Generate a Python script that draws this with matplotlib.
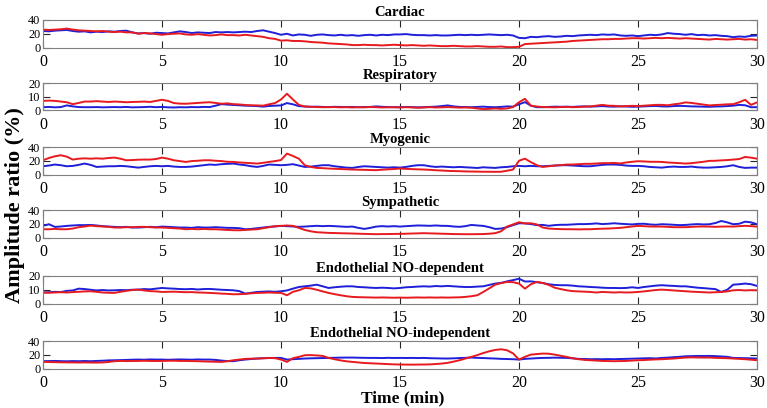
import numpy as np
import matplotlib
matplotlib.use("Agg")
import matplotlib.pyplot as plt

plt.rcParams['font.family'] = ['Liberation Serif', 'DejaVu Serif']

# ---- data (amplitude ratio %, sampled every 0.25 min from 0 to 30) ----
time_min = np.linspace(0, 30, 121)

titles = ["Cardiac", "Respiratory", "Myogenic", "Sympathetic",
          "Endothelial NO-dependent", "Endothelial NO-independent"]
y_limits = [40, 20, 40, 40, 20, 40]
y_ticks = [[0, 20, 40], [0, 10, 20], [0, 20, 40], [0, 20, 40], [0, 10, 20], [0, 20, 40]]
x_ticks = [0, 5, 10, 15, 20, 25, 30]

cardiac_blue = [24, 23.5, 24.5, 25, 25.5, 24, 23, 23.5, 22, 23, 22.5, 23.5, 23, 24, 24.5, 22,
                20.5, 21, 20, 21.5, 21, 20.5, 22, 23.5, 22.5, 21, 22, 21.5, 21, 22.5, 22, 22.5,
                22, 22.5, 23, 22.5, 24, 25, 23, 21, 18.5, 20, 17.5, 19, 18.5, 17, 18.5, 19,
                18, 17.5, 18.5, 17.5, 18, 17, 18, 18.5, 17.5, 18.5, 18, 19, 19, 19.5, 18.5, 18,
                18, 17.5, 18, 17.5, 17.5, 18, 18.5, 18, 18.5, 18, 18.5, 19, 18.5, 18, 18.5, 17.5,
                14, 13.5, 15.5, 15, 16, 16.5, 15.5, 16, 17, 16.5, 17.5, 18, 18.5, 18, 19, 18.5,
                19, 17.5, 17, 17.5, 16.5, 17.5, 18.5, 18, 19, 21, 20, 19.5, 18.5, 19.5, 18, 18.5,
                17.5, 18, 17, 16.5, 15, 16, 15.5, 17, 17.5]
cardiac_red = [26, 25.5, 26, 26.5, 27.5, 26, 25, 24.5, 24, 23.5, 24, 23, 22.5, 23, 22, 22,
               20, 21, 20.5, 19.5, 18.5, 19.5, 20, 20.5, 19, 18.5, 19.5, 18.5, 17.5, 18, 19, 18,
               18, 17.5, 18.5, 17.5, 16.5, 15.5, 13.5, 12.5, 10, 10.5, 9.5, 9.5, 9, 8, 7.5, 7,
               6, 5.5, 5, 4.5, 3.5, 3.5, 4, 3.5, 3.5, 3, 3.5, 4, 3.5, 3, 3.5, 3,
               2.5, 3, 2.5, 2, 2, 2.5, 2, 1.5, 1.5, 2, 1.5, 1, 1, 1.5, 0.5, 0.5,
               1, 5, 5.5, 6, 6.5, 7, 7.5, 8, 8.5, 9.5, 10, 10.5, 11, 11.5, 12, 12,
               12.5, 12.5, 13, 13.5, 13.5, 13, 13.5, 14, 13.5, 14, 13.5, 13, 13.5, 13, 12.5, 12,
               11.5, 12.5, 12, 11.5, 12, 12.5, 11.5, 12, 11]

resp_blue = [2.4, 2.6, 2.3, 2.5, 3.7, 3, 2.5, 2.4, 2.4, 2.5, 2.3, 2.4, 2.5, 2.4, 2.6, 2.3,
             2.4, 2.5, 2.7, 2.4, 2.6, 2.3, 2.2, 2.4, 2.3, 2.5, 2.4, 2.6, 2.5, 3.5, 4.6, 4.3,
             4, 3.8, 3.5, 3.4, 3.2, 2.8, 3.3, 3.5, 3.7, 5.4, 4.5, 3.2, 2.9, 2.7, 2.8, 2.6,
             2.5, 2.7, 2.6, 2.5, 2.6, 2.4, 2.5, 2.6, 3, 2.7, 2.5, 2.4, 2.4, 2.6, 2.5, 2.3,
             2.4, 2.6, 2.8, 3.2, 3.7, 3, 2.6, 2.5, 2.4, 2.6, 2.8, 2.5, 2.4, 2.6, 3, 2.8,
             4.5, 6.1, 3.5, 2.4, 2.4, 2.6, 2.8, 2.7, 2.8, 2.6, 2.9, 3, 2.8, 3, 3.2, 2.9,
             2.8, 3, 2.9, 2.7, 2.8, 3, 3.2, 3.3, 3, 2.9, 3.2, 3.4, 3.2, 3, 2.9, 2.8,
             2.7, 2.9, 3, 3.2, 3.5, 4.1, 3.8, 2.4, 2.4]
resp_red = [7, 7.2, 7, 6.5, 6, 4.6, 5.5, 6.5, 6.5, 6.8, 6.5, 6.2, 6.5, 6.3, 6, 6.2,
            6.3, 6.5, 6.2, 7, 7.8, 7, 5.4, 5, 4.9, 5.2, 5.5, 5.8, 6, 5.5, 4.9, 5.2,
            4.6, 4.4, 4, 3.8, 3.7, 3.5, 4.5, 5.4, 8, 12.2, 8, 4.1, 2.9, 2.7, 2.5, 2.4,
            2.4, 2.5, 2.3, 2.4, 2.2, 2.4, 2.3, 2.5, 2.4, 2.2, 2.3, 2.4, 2.2, 2.4, 2.2, 2,
            2.2, 2.4, 2.2, 2.3, 2.5, 2.3, 2.1, 2.2, 2, 1.5, 1, 1.2, 1.5, 1.2, 1.5, 2.5,
            6, 8.5, 3.5, 2.9, 2.5, 2.4, 2.3, 2.5, 2.6, 2.4, 2.5, 2.8, 3, 3.5, 4.1, 3.5,
            3.4, 3, 3.2, 3.4, 3.2, 3.5, 3.8, 4.1, 4.1, 3.8, 4.5, 5, 5.9, 5.5, 4.9, 4.3,
            3.7, 4, 4.2, 4.5, 4.6, 6, 7.8, 4.1, 5.9]

myo_blue = [12, 13, 14.5, 13.5, 12, 12.5, 14, 15.9, 14, 11, 11.5, 12, 12, 12.5, 12, 11,
            10, 11, 12, 12.5, 12, 12.5, 11.5, 11, 11, 11.5, 12.5, 13.5, 14.5, 14, 15, 15.5,
            15.9, 14.5, 13.5, 12, 11, 12.5, 14.5, 14, 13.5, 14, 15, 13, 11, 11.5, 12.5, 13.5,
            13.5, 12, 11, 10, 9.6, 11, 12, 11.5, 11, 10.5, 10, 10.5, 10, 11, 12.5, 13.5,
            13.5, 12, 11, 11.5, 11, 10.5, 11, 10.5, 10, 9.5, 10.5, 10, 9.6, 10.5, 11, 12,
            12.5, 12, 12.5, 12, 12, 12.5, 13, 13.5, 13.5, 13, 12.5, 12, 12, 13, 14, 14.5,
            14.5, 14, 13, 12.5, 12.5, 12, 11, 10.5, 10, 11, 11.5, 11, 11, 11.5, 10.5, 10,
            10, 10.5, 11, 12, 13.5, 11, 9.6, 10, 10]
myo_red = [20.7, 24, 26.5, 28, 26, 21.7, 23, 23.5, 23, 23.5, 23, 24, 24.6, 23, 20.7, 21,
           21.5, 21.7, 21.7, 22.5, 24.6, 23, 20.7, 19.5, 18.3, 19.5, 20, 20.7, 20.7, 20, 19.5, 18.5,
           18.3, 17.5, 17, 16.5, 15.9, 17, 18.3, 19.5, 21, 30.4, 27, 23, 13.5, 11, 9.6, 9.2,
           8.7, 8.3, 8, 7.6, 7.2, 7, 6.8, 6.5, 6.3, 7, 7.5, 8, 8.7, 8.2, 7.8, 7.5,
           7.2, 6.8, 6.2, 5.8, 5.3, 5, 4.8, 4.5, 4.3, 4.2, 4, 4, 3.9, 4, 5.5, 7.2,
           20, 23, 18, 13.5, 11, 12, 13, 13.5, 14.5, 14.5, 15, 15.5, 15.5, 16, 16.5, 16.5,
           16.9, 16, 17.5, 18.5, 19.3, 19, 18.5, 18.5, 18.3, 17.5, 17, 16.5, 15.9, 16.5, 17.5, 18.5,
           19.8, 20, 20.5, 21, 21.7, 22.5, 25.5, 24.5, 23]

symp_blue = [16.9, 19.3, 15.4, 16, 16.9, 17.5, 18, 18, 18.3, 17.5, 16.5, 16, 15.4, 15, 15.5, 14.5,
             14.5, 15, 15.5, 15, 15.9, 15.5, 15, 14.5, 14.5, 14, 15, 14.5, 14.5, 15, 14.5, 14,
             14, 13.5, 12, 12.5, 13.5, 14.5, 15.5, 16, 16.9, 16.5, 16, 15.5, 15.9, 16.5, 17, 16.5,
             16.9, 16.5, 16, 15.5, 15.9, 14, 12.5, 14, 15.9, 16.5, 16, 16.5, 15.9, 16.5, 17, 17.5,
             17.3, 17, 17.5, 17, 16.9, 16, 15.5, 16.5, 18.3, 17.5, 16.9, 15, 12.5, 13, 15, 18,
             20.7, 20.5, 19.5, 18, 18.3, 17, 18, 18.5, 18.5, 19, 19.5, 19.5, 19.8, 20.5, 19.5, 20,
             20.7, 20, 19.5, 19, 19.8, 20, 19, 18.5, 19.3, 19, 18.5, 18, 18.3, 19, 19.5, 19,
             19.3, 21, 24, 22, 19.3, 20, 23, 22, 19.3]
symp_red = [12, 12, 12.5, 12, 12, 13, 15, 16, 17.3, 16.5, 16, 15.5, 14.5, 14.5, 15, 15,
            15.4, 15.5, 15, 14.5, 14.5, 14, 13.5, 13, 12, 12.5, 12, 12.5, 12, 12, 11.5, 11,
            10.6, 10.5, 11, 11.5, 12, 13.5, 15, 16.5, 16.9, 17.5, 16.9, 14, 11, 9, 7.7, 7.2,
            6.7, 6.5, 6.2, 6, 5.8, 5.5, 5.3, 5, 4.8, 5, 5, 5.2, 5.3, 5.5, 5.8, 6,
            6.3, 6, 5.8, 5.5, 5.3, 5, 4.9, 4.8, 4.8, 4.9, 5, 5.5, 6.3, 9, 15.9, 19,
            22.2, 20.5, 20.7, 19, 14.5, 13, 12.5, 12.2, 12, 12, 11.8, 12, 12, 12.5, 12.8, 13,
            13.5, 14, 15, 16, 16.9, 16.5, 16, 15.9, 15.9, 15.5, 15, 15, 15, 15.5, 15.9, 16,
            15.9, 15.5, 15.9, 16, 15.9, 16.5, 17, 16.5, 15.9]

nodep_blue = [8, 8.2, 8.5, 8.3, 9.2, 9.5, 10.8, 10.5, 10, 9.5, 9.8, 9.5, 9.6, 9.8, 9.7, 10,
              10.1, 10.5, 10.3, 10.8, 11.3, 11, 10.8, 10.5, 10.4, 10.6, 10.2, 10.5, 10.6, 10.3, 10, 9.8,
              9.6, 9, 7.2, 7.8, 8.4, 8.6, 8.8, 8.5, 8.9, 9.5, 10.8, 12, 12.5, 13, 13.7, 12.5,
              11.3, 11.8, 12.2, 12.5, 12.5, 12, 11.8, 11.5, 11.3, 11.5, 11.3, 11, 11.3, 11.8, 12, 12.3,
              12.5, 12.3, 12.7, 12.5, 12.8, 12.5, 12.2, 12, 12, 12.3, 12.5, 13.5, 14.5, 15, 16.1, 17,
              18, 16, 16.1, 15.5, 14.9, 14, 13.5, 13.3, 13.3, 13, 12.5, 12.3, 12, 11.8, 11.5, 11.3,
              11.3, 11.2, 11.3, 11.8, 11.3, 12, 12.5, 13, 13.3, 13, 12.8, 12.5, 12.5, 12, 11.5, 11.2,
              10.8, 10.5, 8.4, 10, 13.7, 14, 14.5, 14, 12.8]
nodep_red = [8, 7.8, 8, 8.2, 8, 8.3, 8.5, 8.8, 8.9, 8.5, 8, 7.8, 7.7, 8.5, 9.2, 9.8,
             10.1, 9.5, 9, 8.8, 8.4, 8.5, 8.6, 8.4, 8.2, 8.3, 8, 7.9, 7.7, 7.5, 7.2, 7,
             6.7, 6.8, 7, 7.4, 7.7, 7.8, 8, 7.8, 7.7, 6, 8.5, 9.6, 11.3, 11, 10, 8.8,
             7.7, 6.8, 6, 5.3, 4.8, 4.6, 4.5, 4.4, 4.3, 4.4, 4.3, 4.2, 4.3, 4.2, 4.3, 4.4,
             4.3, 4.4, 4.3, 4.4, 4.3, 4.4, 4.5, 4.8, 5.3, 6, 8.4, 11, 13.7, 14.8, 15.7, 15.5,
             14.5, 10.8, 14, 15.7, 14.9, 13.5, 11.5, 10.5, 9.6, 9, 8.8, 8.6, 8.4, 8, 8.4, 8.2,
             8, 8.2, 8, 8.1, 8.4, 8.8, 9.3, 9.8, 10.1, 9.8, 9.5, 9.2, 8.9, 8.6, 8.4, 8.2,
             8, 8.2, 8.4, 8.8, 9.6, 9.8, 9.5, 9.7, 9.6]

noind_blue = [10.6, 10.8, 11, 10.7, 10.5, 10.8, 10.6, 10.9, 10.6, 11, 11.3, 11.8, 12, 12.2, 12.5, 12.8,
              13, 12.8, 13.2, 13, 13, 12.7, 13, 13.2, 13, 12.8, 13.2, 13, 13, 12.5, 11.5, 10.8,
              10.6, 12, 13, 13.8, 14.5, 15, 15.2, 15.4, 15.4, 13, 13.5, 14, 14.5, 14.8, 15, 15.2,
              15.4, 15.6, 15.8, 15.9, 15.9, 15.7, 15.5, 15.4, 15.4, 15.2, 15.5, 15.3, 15.4, 15.3, 15.4, 15.2,
              15.4, 15, 14.8, 14.6, 14.5, 14.8, 15.2, 15.5, 15.9, 15.5, 15.2, 14.8, 14.5, 14, 13.8, 13.5,
              13, 14, 14.5, 15, 15.4, 15.5, 15.8, 15.6, 15.4, 14.8, 14, 13.8, 13.5, 13.6, 13.5, 13.7,
              13.5, 13.8, 14, 14.3, 14.5, 14.8, 15, 14.6, 15.4, 15.8, 16.5, 17, 17.8, 18, 18.3, 18.2,
              18.3, 18, 17.5, 17, 15.4, 15.2, 15, 14.8, 14.5]
noind_red = [9.6, 9.4, 9.2, 9, 8.9, 8.8, 8.7, 8.8, 8.7, 8.6, 8.8, 9.5, 10.6, 11, 10.8, 10.9,
             11, 11.2, 11, 10.9, 11, 11.2, 11.3, 11, 11, 10.8, 10.6, 10.3, 10, 9.8, 9.6, 10.5,
             12, 13, 14, 14.3, 14.5, 14.8, 15.4, 15, 13, 9.6, 15, 16.9, 19.3, 19.5, 19, 18.3,
             15.4, 13.5, 11.8, 10.5, 9.6, 8.8, 8, 7.6, 7.2, 6.8, 6.4, 6, 5.8, 5.7, 5.6, 5.7,
             5.8, 6, 6.5, 7.2, 8.2, 10, 12, 14.5, 16.9, 19.5, 22.5, 25, 27, 28, 26.5, 22,
             13, 17, 20.2, 21, 21.7, 21.5, 20.2, 18.5, 16.9, 15, 13.5, 12.5, 12, 11.5, 11, 10.8,
             10.6, 10.8, 11, 11.5, 12, 12.3, 12.8, 13.2, 13.5, 14, 14.5, 15.2, 15.9, 16.2, 16, 15.9,
             15.9, 15.5, 15.2, 15, 14.5, 14, 13.5, 12.8, 12]

blue_series = [cardiac_blue, resp_blue, myo_blue, symp_blue, nodep_blue, noind_blue]
red_series = [cardiac_red, resp_red, myo_red, symp_red, nodep_red, noind_red]

# ---- figure ----
W, H = 767, 408
fig = plt.figure(figsize=(W / 100, H / 100), dpi=100)

ax_left_px, ax_right_px = 43, 757
ax_tops_px = [20, 83, 147, 210, 276, 341]
ax_h_px = 27.5
blue_c = (0.12, 0.12, 0.85)
red_c = (0.90, 0.10, 0.12)

for i in range(6):
    top = ax_tops_px[i]
    ax = fig.add_axes([ax_left_px / W, 1 - (top + ax_h_px) / H,
                       (ax_right_px - ax_left_px) / W, ax_h_px / H])
    ax.plot(time_min, blue_series[i], color=blue_c, lw=1.4)
    ax.plot(time_min, red_series[i], color=red_c, lw=1.4)
    ax.set_xlim(0, 30)
    ax.set_ylim(0, y_limits[i])
    ax.set_xticks(x_ticks)
    ax.set_yticks(y_ticks[i])
    ax.tick_params(direction='in', length=5, width=0.8, top=True, right=True,
                   labelsize=11.5, pad=5, colors=(0.15, 0.15, 0.15), labelcolor='black')
    ax.tick_params(axis='y', pad=2, labelsize=8.8)
    for s in ax.spines.values():
        s.set_color((0.5, 0.5, 0.5))
        s.set_linewidth(0.8)
    ax.set_title(titles[i], fontsize=10.5, fontweight='bold', pad=3)

fig.text(0.02, 0.497, "Amplitude ratio (%)", rotation=90, ha='center', va='center',
         fontsize=16, fontweight='bold')
fig.text(0.525, 0.024, "Time (min)", ha='center', va='center',
         fontsize=12.5, fontweight='bold')

fig.savefig("out.png", dpi=100)
